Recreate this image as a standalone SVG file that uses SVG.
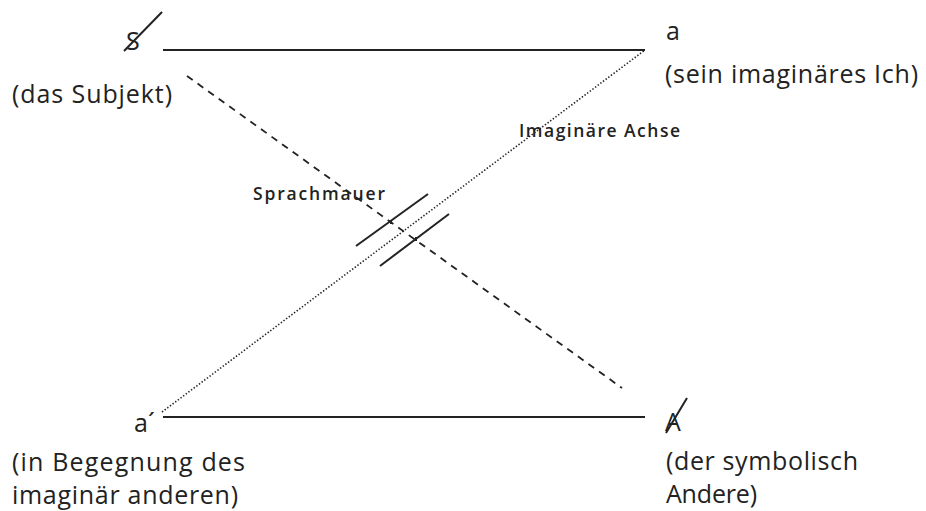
<svg xmlns="http://www.w3.org/2000/svg" width="926" height="511" viewBox="0 0 926 511">
<style>
.t{font-family:"Open Sans","Noto Sans","Liberation Sans",sans-serif;font-size:25px;fill:#222}
.b{font-family:"Open Sans","Noto Sans","Liberation Sans",sans-serif;font-size:17.5px;font-weight:600;fill:#222}
.s{stroke:#222;stroke-width:2;fill:none}
.d{stroke:#222;stroke-width:1.8;fill:none;stroke-dasharray:7 6}
.o{stroke:#222;stroke-width:1.6;fill:none;stroke-dasharray:1.4 1.9}
</style>
<rect width="926" height="511" fill="#fff"/>
<g id="subjekt">
<text class="t" x="126" y="50">S</text>
<line class="s" x1="124" y1="51" x2="162" y2="12" stroke-width="1.6"/>
<text class="t" x="12" y="103" textLength="160">(das Subjekt)</text>
</g>
<g id="ich">
<text class="t" x="666" y="40">a</text>
<text class="t" x="665" y="83" textLength="253">(sein imaginäres Ich)</text>
</g>
<g id="anderer">
<text class="t" x="134" y="432">a´</text>
<text class="t" x="12" y="471" textLength="233">(in Begegnung des</text>
<text class="t" x="12" y="504" textLength="226">imaginär anderen)</text>
</g>
<g id="andere">
<text class="t" x="665" y="431">A</text>
<line class="s" x1="666" y1="433" x2="687" y2="398" stroke-width="1.6"/>
<text class="t" x="666" y="470" textLength="192">(der symbolisch</text>
<text class="t" x="666" y="503" textLength="91">Andere)</text>
</g>
<g id="connectors">
<line class="s" x1="163" y1="50" x2="645" y2="50"/>
<line class="s" x1="163" y1="417" x2="645" y2="417"/>
<line class="d" x1="187" y1="76" x2="622" y2="388"/>
<line class="o" x1="162" y1="412" x2="645" y2="50"/>
<g id="sprachmauer">
<line class="s" x1="356" y1="246" x2="428" y2="194"/>
<line class="s" x1="380" y1="266" x2="449" y2="214"/>
<line class="s" x1="391" y1="220" x2="391" y2="224" stroke-width="1.2"/>
<line class="s" x1="416" y1="237" x2="416" y2="241" stroke-width="1.2"/>
</g>
</g>
<g id="labels">
<text class="b" x="253" y="200" textLength="132">Sprachmauer</text>
<text class="b" x="519" y="137" textLength="161">Imaginäre Achse</text>
</g>
</svg>
